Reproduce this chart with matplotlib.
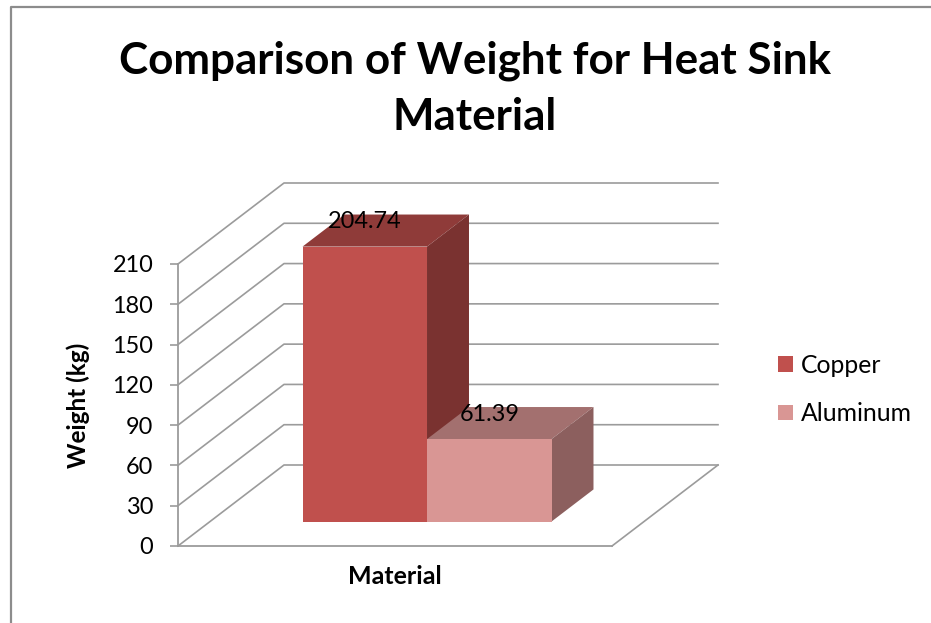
import matplotlib
matplotlib.use("Agg")
import matplotlib.pyplot as plt
from matplotlib.lines import Line2D
from matplotlib.patches import Patch, Polygon

materials = ["Copper", "Aluminum"]
weights = [204.74, 61.39]
weight_labels = ["204.74", "61.39"]
y_ticks = [0, 30, 60, 90, 120, 150, 180, 210]
title = "Comparison of Weight for Heat Sink\nMaterial"
x_title = "Material"
y_title = "Weight (kg)"

front_colors = ["#C0504D", "#D99694"]
top_colors = ["#8F3B39", "#A3706F"]
side_colors = ["#7A3230", "#8C5F5E"]
GRID = "#9B9B9B"

W, H = 931, 623
plt.rcParams["font.family"] = ["Lato", "DejaVu Sans"]
fig = plt.figure(figsize=(W / 100, H / 100), dpi=100, facecolor="white")
ax = fig.add_axes([178 / W, (H - 546) / H, 434 / W, 282 / H])
ax.set_xlim(0, 1)
ax.set_ylim(0, 210)
ax.patch.set_visible(False)

# oblique projection: depth 0..1 shifts right and up
DX = 106 / 434
DY = 81 / (282 / 210)


def proj(x, y, z):
    return (x + z * DX, y + z * DY)


for v in y_ticks:
    ax.add_line(Line2D(*zip(proj(0, v, 0), proj(0, v, 1), proj(1, v, 1)),
                       color=GRID, lw=1.2, clip_on=False, zorder=1))
ax.add_line(Line2D(*zip(proj(1, 0, 0), proj(1, 0, 1)), color=GRID, lw=1.2,
                   clip_on=False, zorder=1))

bar_w = 124.5 / 434
gap = (1 - bar_w * len(weights)) / 2
z0, z1 = 0.302, 0.698

for i, v in enumerate(weights):
    x0 = gap + i * bar_w
    x1 = x0 + bar_w
    faces = [
        ([(x0, v, z0), (x1, v, z0), (x1, v, z1), (x0, v, z1)], top_colors[i]),
        ([(x1, 0, z0), (x1, 0, z1), (x1, v, z1), (x1, v, z0)], side_colors[i]),
        ([(x0, 0, z0), (x1, 0, z0), (x1, v, z0), (x0, v, z0)], front_colors[i]),
    ]
    for pts, col in faces:
        ax.add_patch(Polygon([proj(*p) for p in pts], closed=True, facecolor=col,
                             edgecolor="none", clip_on=False, zorder=3 + i))
    cx, cy = proj((x0 + x1) / 2, v, z0)
    ax.annotate(weight_labels[i], (cx, cy), xytext=(0, 18), textcoords="offset points",
                ha="center", va="center", fontsize=16.9, color="black", zorder=10,
                annotation_clip=False)

for s in ("top", "right"):
    ax.spines[s].set_visible(False)
for s in ("left", "bottom"):
    ax.spines[s].set_color(GRID)
    ax.spines[s].set_linewidth(1.3)
    ax.spines[s].set_zorder(2)
ax.set_xticks([])
ax.set_yticks(y_ticks)
ax.tick_params(axis="y", length=5.8, width=1.2, color=GRID, pad=12, labelsize=16.9,
               labelcolor="black")

ax.set_xlabel(x_title, fontsize=18, fontweight="bold", va="center")
ax.xaxis.set_label_coords(0.5, -31 / 282)
ax.set_ylabel(y_title, fontsize=17.5, fontweight="bold", va="center")
ax.yaxis.set_label_coords(-100 / 434, 0.5)

fig.text(475 / W, 1 - 89 / H, title, ha="center", va="center", fontsize=31.7,
         fontweight="bold", color="black", linespacing=1.5)

handles = [Patch(facecolor=c, edgecolor="none") for c in front_colors]
ax.legend(handles, materials, loc="center left", frameon=False, fontsize=17.8,
          bbox_to_anchor=(778 / W, 1 - 389.5 / H), bbox_transform=fig.transFigure,
          handlelength=0.61, handleheight=0.61, handletextpad=0.33, labelspacing=1.03,
          borderpad=0, borderaxespad=0, labelcolor="black")

fig.add_artist(Line2D([11 / W, 11 / W, 1], [0, 1 - 7 / H, 1 - 7 / H],
                      transform=fig.transFigure, color="#8C8C8C", lw=1.6))

fig.savefig("out.png", dpi=100)
